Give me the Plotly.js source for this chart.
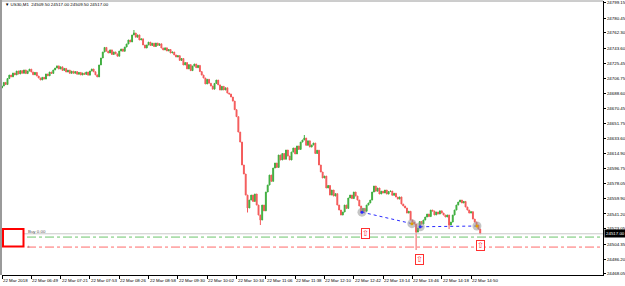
<!DOCTYPE html>
<html><head><meta charset="utf-8">
<script src="https://cdn.plot.ly/plotly-3.0.1.min.js"></script>
<style>html,body{margin:0;padding:0;background:#fff}#chart{width:625px;height:286px}</style>
</head><body><div id="chart"></div>
<script>
// 2-minute closes, US30 M1, from 22 Mar 06:17
const closes = [
24697.4,24701.8,24699.2,24706.5,24710.8, 24708.6,24713.3,24711.0,24715.7,24712.1,
24716.2,24713.0,24717.0,24712.6,24715.7, 24718.0,24714.5,24711.2,24714.0,24709.6,
24707.2,24704.8,24708.0,24705.9,24712.1, 24709.9,24714.5,24712.8,24717.0,24719.4,
24722.0,24718.2,24720.8,24716.5,24718.9, 24714.5,24716.8,24712.9,24715.5,24713.0,
24715.0,24711.8,24714.0,24710.9,24713.3, 24711.6,24714.5,24710.7,24715.7,24718.2,
24714.8,24711.0,24708.5,24723.1,24731.6, 24738.9,24744.5,24740.0,24737.7,24741.5,
24735.9,24739.0,24736.6,24733.8,24740.1, 24742.6,24739.8,24745.0,24748.7,24753.6,
24751.2,24759.7,24762.1,24757.0,24759.8, 24753.6,24755.0,24747.5,24743.8,24747.5,
24751.0,24746.9,24749.7,24745.6,24749.9, 24747.0,24748.9,24743.8,24741.4,24744.0,
24740.2,24742.0,24737.7,24738.9,24735.3, 24732.8,24734.5,24728.7,24731.0,24723.1,
24726.0,24718.3,24723.5,24716.2,24721.8, 24724.3,24719.8,24722.6,24715.0,24710.8,
24707.2,24699.9,24705.6,24700.8,24697.4, 24693.6,24700.6,24704.7,24698.8,24692.5,
24697.0,24692.6,24695.2,24688.8,24687.6, 24684.0,24679.0,24668.5,24660.0,24641.2,
24629.0,24601.0,24590.0,24564.3,24548.5, 24558.2,24564.3,24556.5,24565.6,24552.1,
24539.9,24533.8,24552.1,24545.0,24568.0, 24576.5,24588.7,24581.0,24597.3,24603.4,
24598.0,24613.2,24607.1,24615.0,24608.0, 24619.3,24611.9,24607.1,24616.8,24621.7,
24614.5,24624.2,24620.0,24629.0,24631.5, 24633.9,24625.0,24630.5,24622.9,24625.4,
24627.8,24615.0,24619.0,24601.0,24592.4, 24585.1,24587.5,24572.9,24576.0,24564.3,
24570.4,24563.1,24566.0,24552.1,24546.0, 24539.9,24543.6,24552.1,24548.0,24560.7,
24564.3,24560.0,24568.0,24563.1,24558.2, 24550.9,24543.6,24548.0,24544.5,24552.1,
24554.6,24558.2,24568.0,24575.3,24569.0, 24572.9,24565.6,24569.0,24566.8,24570.4,
24565.5,24568.5,24569.2,24564.0,24566.5, 24561.9,24559.4,24562.0,24553.3,24550.9,
24548.5,24542.3,24544.5,24533.8,24531.3, 24528.9,24519.1,24524.0,24532.0,24528.9,
24533.8,24537.5,24541.1,24538.0,24546.0, 24544.8,24540.0,24543.6,24541.1,24545.0,
24542.3,24539.9,24537.5,24540.0,24527.7, 24531.3,24539.9,24546.0,24552.1,24555.8,
24558.2,24554.6,24556.5,24549.7,24546.0, 24542.3,24544.0,24535.0,24531.3,24527.7,
24522.8,24517.0
];
const firstOpen = 24695.0;
// notable wick extremes (index into closes)
const wickIdx  = [72, 134, 141, 165, 226, 244];
const wickHigh = [24765.8, null, null, 24637.6, null, null];
const wickLow  = [null, 24543.0, 24527.7, null, 24497.2, 24522.8];

const xTickLabels = ['22 Mar 2018','22 Mar 06:49','22 Mar 07:21','22 Mar 07:53','22 Mar 08:26','22 Mar 08:58',
 '22 Mar 09:30','22 Mar 10:02','22 Mar 10:34','22 Mar 11:06','22 Mar 11:38','22 Mar 12:10','22 Mar 12:42',
 '22 Mar 13:14','22 Mar 13:46','22 Mar 14:18','22 Mar 14:50'];
const yTickValues = [24799.15,24780.45,24762.30,24743.60,24725.45,24706.75,24688.60,24670.45,24651.75,
 24633.60,24614.90,24596.75,24578.05,24559.90,24541.20,24523.05,24504.35,24486.20,24468.05];

const bidPrice = 24517.00;
const greenLevel = 24513.0;
const redLevel = 24500.8;
const markX = [392.9, 447.4, 456.5, 518.4];
const markY = [24543.4, 24529.4, 24525.6, 24526.5];
const arrowX = [396.5, 455.4, 522.0];
const arrowY = [24517.9, 24486.2, 24503.3];
const titleText = '\u25BC US30,M1  24509.50 24517.00 24509.50 24517.00';

// build OHLC
const xs = closes.map((_, i) => 2 * i);
const opens = closes.map((c, i) => i === 0 ? firstOpen : closes[i - 1]);
const highs = closes.map((c, i) => Math.max(c, opens[i]));
const lows = closes.map((c, i) => Math.min(c, opens[i]));
wickIdx.forEach((k, j) => {
  if (wickHigh[j] != null) highs[k] = wickHigh[j];
  if (wickLow[j] != null) lows[k] = wickLow[j];
});

const L = 2, R = 22, T = 1, B = 11, W = 625, H = 286;
const pw = W - L - R, ph = H - T - B;
const px = x => (x - L) / pw;
const py = y => (H - B - y) / ph;
const fnt = {family: 'Liberation Sans, Arial, sans-serif', size: 4.4, color: '#000'};

const traces = [
  {type: 'candlestick', x: xs, open: opens, high: highs, low: lows, close: closes,
   increasing: {line: {color: '#3fae3f', width: 1}, fillcolor: '#3fae3f'},
   decreasing: {line: {color: '#f45a5a', width: 1}, fillcolor: '#f45a5a'},
   whiskerwidth: 0, hoverinfo: 'skip', showlegend: false},
  {type: 'scatter', mode: 'lines', x: [markX[0], markX[1], null, markX[2], markX[3]],
   y: [markY[0], markY[1], null, markY[2], markY[3]],
   line: {color: '#2a2aff', width: 1, dash: 'dot'}, showlegend: false, hoverinfo: 'skip'},
  {type: 'scatter', mode: 'markers', x: markX, y: markY,
   marker: {size: 9, color: 'rgba(150,150,150,0.55)', line: {width: 0}}, showlegend: false, hoverinfo: 'skip'},
  {type: 'scatter', mode: 'markers', x: markX, y: markY,
   marker: {size: 3, color: ['#2a2aff', '#e0a000', '#2a2aff', '#e0a000']}, showlegend: false, hoverinfo: 'skip'}
];

const tickPos = xTickLabels.map((_, k) => 32 * k);
const annotations = [];
xTickLabels.forEach((t, k) => annotations.push({
  x: tickPos[k], xref: 'x', y: 0, yref: 'paper', xanchor: 'left', yanchor: 'top', yshift: -1.5,
  text: t, showarrow: false, font: fnt, borderpad: 0
}));
annotations.push({x: 1, xref: 'paper', y: bidPrice, yref: 'y', xanchor: 'left', yanchor: 'middle',
  xshift: 0.5, text: bidPrice.toFixed(2), showarrow: false, bgcolor: '#000',
  font: Object.assign({}, fnt, {color: '#fff'}), borderpad: 1});
annotations.push({x: px(3), xref: 'paper', y: py(5), yref: 'paper', xanchor: 'left', yanchor: 'middle',
  text: titleText, showarrow: false, font: fnt});
annotations.push({x: px(26), xref: 'paper', y: py(231.5), yref: 'paper', xanchor: 'left', yanchor: 'middle',
  text: 'Buy 0.00', showarrow: false, font: Object.assign({}, fnt, {color: '#555'})});
annotations.push({x: px(26), xref: 'paper', y: py(246), yref: 'paper', xanchor: 'left', yanchor: 'middle',
  text: 't', showarrow: false, font: Object.assign({}, fnt, {color: '#555'})});
arrowX.forEach((ax, k) => annotations.push({
  x: ax, y: arrowY[k], xref: 'x', yref: 'y', text: '\u21E7', showarrow: false,
  font: {family: 'DejaVu Sans', size: 8, color: '#ff3030'}, bordercolor: '#ff3030', borderwidth: 1,
  borderpad: 0, bgcolor: '#fff'
}));

const shapes = [
  {type: 'line', xref: 'x', yref: 'y', x0: 0, x1: 656, y0: bidPrice, y1: bidPrice,
   line: {color: '#c8c8c8', width: 1}},
  {type: 'line', xref: 'paper', yref: 'y', x0: px(27), x1: 1, y0: greenLevel, y1: greenLevel,
   line: {color: '#6cc46c', width: 1, dash: 'dashdot'}},
  {type: 'line', xref: 'paper', yref: 'y', x0: px(27), x1: 1, y0: redLevel, y1: redLevel,
   line: {color: '#ff6a6a', width: 1, dash: 'dashdot'}},
  {type: 'rect', xref: 'paper', yref: 'paper', x0: px(3), x1: px(23.5), y0: py(246.5), y1: py(229),
   line: {color: '#ff0000', width: 2}, fillcolor: '#fff'},
  {type: 'line', xref: 'paper', yref: 'paper', x0: px(1), x1: px(1), y0: py(0), y1: py(275),
   line: {color: '#9a9a9a', width: 2}},
  {type: 'line', xref: 'paper', yref: 'paper', x0: px(0), x1: px(603), y0: py(1), y1: py(1),
   line: {color: '#9a9a9a', width: 1}}
];

const layout = {
  width: W, height: H, margin: {l: L, r: R, t: T, b: B, pad: 0},
  paper_bgcolor: '#fff', plot_bgcolor: '#fff', showlegend: false,
  xaxis: {range: [0, 656], showgrid: false, zeroline: false, showline: true, linecolor: '#000', linewidth: 1,
    tickmode: 'array', tickvals: tickPos, ticks: 'outside', ticklen: 3, tickcolor: '#000',
    showticklabels: false, rangeslider: {visible: false}, fixedrange: true},
  yaxis: {range: [24466.7, 24801.2], side: 'right', showgrid: false, zeroline: false, showline: true,
    linecolor: '#000', linewidth: 1, tickmode: 'array', tickvals: yTickValues,
    ticktext: yTickValues.map(v => v.toFixed(2)), ticks: 'outside', ticklen: 2, tickcolor: '#000',
    ticklabelstandoff: 0, tickfont: fnt, fixedrange: true},
  annotations: annotations, shapes: shapes
};
Plotly.newPlot('chart', traces, layout, {staticPlot: true, displayModeBar: false});
</script></body></html>
